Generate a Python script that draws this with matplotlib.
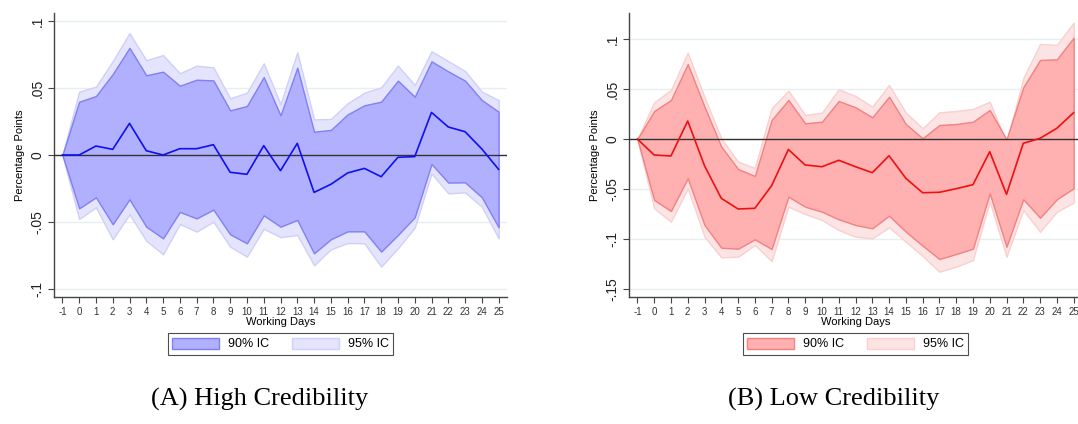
# -*- coding: utf-8 -*-
"""
Event-study style chart: point estimate with 90% / 95% confidence bands,
two panels (high vs. low credibility).
"""

import numpy as np
import matplotlib
matplotlib.use("Agg")
import matplotlib.pyplot as plt
from matplotlib.patches import Patch


# ---------- Data ----------
days = list(range(-1, 26))

# (A) High credibility
high_coef = [0, 0, 0.0067, 0.0042, 0.0236, 0.0032, 0.0, 0.0047, 0.0047, 0.0077,
             -0.0129, -0.0144, 0.0070, -0.0117, 0.0087, -0.0279, -0.0219, -0.0134,
             -0.0100, -0.0162, -0.0017, -0.0012, 0.0318, 0.0209, 0.0174, 0.0045, -0.0107]
high_hi90 = [0, 0.0398, 0.0440, 0.0604, 0.0800, 0.0595, 0.0622, 0.0517, 0.0562, 0.0557,
             0.0333, 0.0366, 0.0582, 0.0296, 0.0652, 0.0174, 0.0187, 0.0303,
             0.0371, 0.0398, 0.0555, 0.0435, 0.0699, 0.0624, 0.0555, 0.0410, 0.0323]
high_lo90 = [0, -0.0398, -0.0316, -0.0517, -0.0331, -0.0535, -0.0622, -0.0425, -0.0473, -0.0408,
             -0.0592, -0.0659, -0.0450, -0.0535, -0.0485, -0.0734, -0.0629, -0.0570,
             -0.0570, -0.0721, -0.0597, -0.0465, -0.0067, -0.0206, -0.0204, -0.0316, -0.0540]
high_hi95 = [0, 0.0473, 0.0510, 0.0700, 0.0910, 0.0707, 0.0746, 0.0610, 0.0667, 0.0654,
             0.0423, 0.0465, 0.0684, 0.0380, 0.0766, 0.0266, 0.0269, 0.0386,
             0.0465, 0.0505, 0.0667, 0.0522, 0.0774, 0.0701, 0.0627, 0.0473, 0.0410]
high_lo95 = [0, -0.0478, -0.0390, -0.0629, -0.0443, -0.0640, -0.0741, -0.0515, -0.0572, -0.0498,
             -0.0684, -0.0759, -0.0550, -0.0614, -0.0597, -0.0823, -0.0704, -0.0657,
             -0.0659, -0.0833, -0.0696, -0.0542, -0.0137, -0.0286, -0.0279, -0.0386, -0.0622]

# (B) Low credibility
low_coef = [0, -0.0160, -0.0170, 0.0180, -0.0267, -0.0593, -0.0700, -0.0693, -0.0467, -0.0105,
            -0.0260, -0.0277, -0.0213, -0.0277, -0.0337, -0.0167, -0.0393, -0.0537,
            -0.0533, -0.0497, -0.0457, -0.0127, -0.0553, -0.0043, 0.0007, 0.0107, 0.0263]
low_hi90 = [0, 0.0280, 0.0390, 0.0750, 0.0323, -0.0077, -0.0300, -0.0370, 0.0190, 0.0390,
            0.0157, 0.0173, 0.0380, 0.0317, 0.0217, 0.0423, 0.0150, 0.0007,
            0.0140, 0.0150, 0.0173, 0.0290, -0.0003, 0.0517, 0.0790, 0.0797, 0.1013]
low_lo90 = [0, -0.0610, -0.0720, -0.0393, -0.0860, -0.1087, -0.1097, -0.1003, -0.1100, -0.0577,
            -0.0677, -0.0727, -0.0803, -0.0860, -0.0893, -0.0767, -0.0927, -0.1067,
            -0.1200, -0.1150, -0.1097, -0.0543, -0.1077, -0.0603, -0.0787, -0.0603, -0.0493]
low_hi95 = [0, 0.0367, 0.0490, 0.0863, 0.0420, 0.0007, -0.0227, -0.0290, 0.0307, 0.0483,
            0.0240, 0.0263, 0.0497, 0.0430, 0.0323, 0.0540, 0.0263, 0.0107,
            0.0267, 0.0280, 0.0300, 0.0373, -0.0037, 0.0607, 0.0950, 0.0940, 0.1163]
low_lo95 = [0, -0.0693, -0.0827, -0.0493, -0.0977, -0.1183, -0.1177, -0.1060, -0.1220, -0.0677,
            -0.0750, -0.0810, -0.0910, -0.0977, -0.0993, -0.0883, -0.1027, -0.1170,
            -0.1327, -0.1277, -0.1210, -0.0627, -0.1177, -0.0710, -0.0927, -0.0727, -0.0637]

high_yticks = [-0.1, -0.05, 0, 0.05, 0.1]
high_ylabels = ["-.1", "-.05", "0", ".05", ".1"]
low_yticks = [-0.15, -0.1, -0.05, 0, 0.05, 0.1]
low_ylabels = ["-.15", "-.1", "-.05", "0", ".05", ".1"]


plt.rcParams["font.family"] = ["Liberation Sans", "DejaVu Sans"]

fig = plt.figure(figsize=(10.78, 4.24), dpi=100)
W, H = 1078, 424


def panel(left_px, right_px, coef, hi90, lo90, hi95, lo95, ylim, yticks, ylabels,
          line_c, c90, e90, c95, e95, caption, cap_x):
    ax = fig.add_axes([left_px / W, 1 - 297 / H, (right_px - left_px) / W, 284 / H])
    ax.fill_between(days, lo95, hi95, facecolor=c95, edgecolor=e95, linewidth=1.0, zorder=2)
    ax.fill_between(days, lo90, hi90, facecolor=c90, edgecolor=e90, linewidth=1.0, zorder=3)
    ax.axhline(0, color="#333333", linewidth=1.0, zorder=4)
    ax.plot(days, coef, color=line_c, linewidth=1.2, zorder=5)

    ax.set_xlim(-1.5, 25.5)
    ax.set_ylim(*ylim)
    ax.set_xticks(days)
    ax.set_xticklabels([str(d) for d in days], fontsize=7, color="#333333")
    ax.set_yticks(yticks)
    ax.set_yticklabels(ylabels, fontsize=10, rotation=90, va="center", color="#222222")
    ax.grid(axis="y", color="#e6efef", linewidth=1.0, zorder=1)
    ax.set_axisbelow(True)
    for s in ("top", "right"):
        ax.spines[s].set_visible(False)
    for s in ("left", "bottom"):
        ax.spines[s].set_color("#444444")
        ax.spines[s].set_linewidth(1.0)
    ax.tick_params(axis="both", length=4, width=0.8, color="#444444", pad=3)
    ax.set_xlabel("Working Days", fontsize=8, labelpad=0)
    ax.set_ylabel("Percentage Points", fontsize=8, labelpad=4)

    handles = [Patch(facecolor=c90, edgecolor=e90, linewidth=1.0, label="90% IC"),
               Patch(facecolor=c95, edgecolor=e95, linewidth=1.0, label="95% IC")]
    leg = fig.legend(handles=handles, loc="center", ncol=2, fontsize=9,
                     bbox_to_anchor=((left_px + 453 / 2) / W, 1 - 344 / H),
                     frameon=True, fancybox=False, handlelength=3.8, handleheight=1.0,
                     handletextpad=0.7, columnspacing=1.8, borderpad=0.35)
    leg.get_frame().set_edgecolor("#222222")
    leg.get_frame().set_linewidth(0.8)

    fig.text(cap_x / W, 1 - 399 / H, caption, ha="center", va="center",
             fontsize=19, family=["Liberation Serif", "DejaVu Serif"])
    return ax


panel(54, 507, high_coef, high_hi90, high_lo90, high_hi95, high_lo95,
      (-0.106, 0.106), high_yticks, high_ylabels,
      "#1010ee", "#b0b0ff", "#8080f4", "#e4e4fc", "#cfcffa",
      "(A) High Credibility", 260)

panel(629, 1082, low_coef, low_hi90, low_lo90, low_hi95, low_lo95,
      (-0.158, 0.126), low_yticks, low_ylabels,
      "#ee1010", "#ffb0b0", "#f48080", "#fde4e4", "#facfcf",
      "(B) Low Credibility", 834)

fig.savefig("out.png", dpi=100)
plt.close(fig)
